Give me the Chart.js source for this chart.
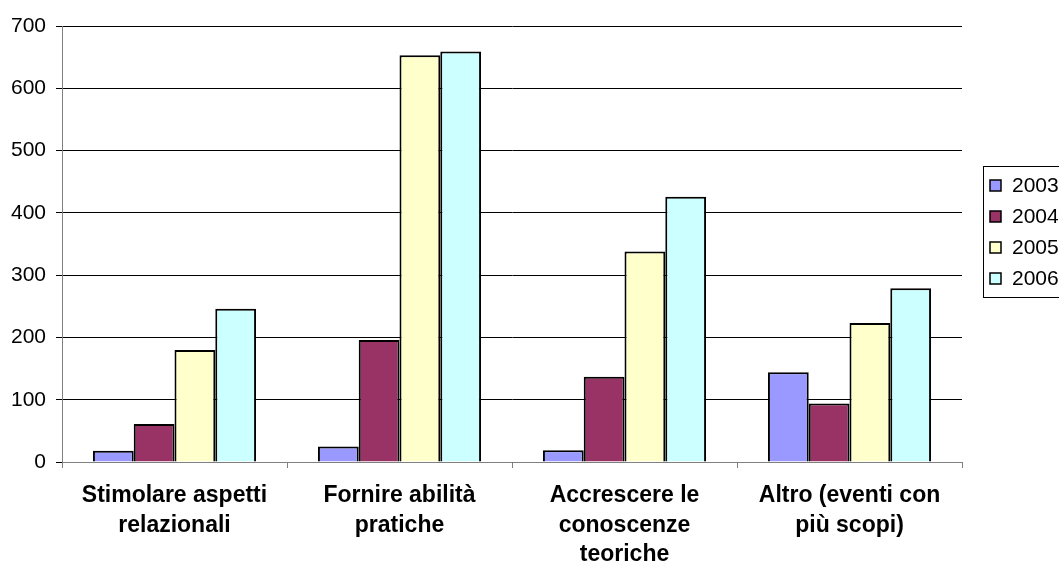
<!DOCTYPE html>
<html>
<head>
<meta charset="utf-8">
<script src="https://cdn.jsdelivr.net/npm/chart.js@4"></script>
<style>
  html, body { margin: 0; padding: 0; background: #fff; overflow: hidden; }
  #wrap { width: 1059px; height: 564px; position: relative; }
</style>
</head>
<body>
<div id="wrap"><canvas id="myChart"></canvas></div>
<script>
// categories and yearly values
const categories = [
  ['Stimolare aspetti', 'relazionali'],
  ['Fornire abilità', 'pratiche'],
  ['Accrescere le', 'conoscenze', 'teoriche'],
  ['Altro (eventi con', 'più scopi)']
];
const years = ['2003', '2004', '2005', '2006'];
const values2003 = [18, 25, 19, 144];
const values2004 = [61, 196, 137, 94];
const values2005 = [180, 653, 338, 223];
const values2006 = [246, 659, 426, 279];
const yTicks = [0, 100, 200, 300, 400, 500, 600, 700];

const colors = ['#9999FF', '#993366', '#FFFFCC', '#CCFFFF'];
const series = [values2003, values2004, values2005, values2006];

const FONT = "'Liberation Sans', Arial, sans-serif";

// legend with a box, drawn by hand like the original
const boxLegend = {
  id: 'boxLegend',
  afterDraw(chart) {
    const ctx = chart.ctx;
    ctx.save();
    ctx.strokeStyle = '#000';
    ctx.lineWidth = 1;
    ctx.strokeRect(983.5, 166.5, 100, 131);
    ctx.font = '21px ' + FONT;
    ctx.textBaseline = 'middle';
    chart.data.datasets.forEach(function (ds, i) {
      const y = 185 + i * 31;
      ctx.fillStyle = ds.backgroundColor;
      ctx.fillRect(990, y - 5, 11, 11);
      ctx.strokeStyle = '#000';
      ctx.lineWidth = 1.5;
      ctx.strokeRect(990, y - 5, 11, 11);
      ctx.fillStyle = '#000';
      ctx.fillText(ds.label, 1012, y + 1);
    });
    ctx.restore();
  }
};

const data = {
  labels: categories,
  datasets: years.map(function (y, i) {
    return {
      label: y,
      data: series[i],
      backgroundColor: colors[i],
      borderColor: '#000',
      borderWidth: 2,
      borderSkipped: 'bottom',
      barPercentage: 1,
      categoryPercentage: 0.725
    };
  })
};

const config = {
  type: 'bar',
  data: data,
  plugins: [boxLegend],
  options: {
    responsive: true,
    maintainAspectRatio: false,
    animation: false,
    layout: { padding: { top: 26, right: 97, left: 0, bottom: 0 } },
    plugins: {
      legend: { display: false },
      tooltip: { enabled: false }
    },
    scales: {
      x: {
        offset: true,
        grid: {
          offset: true,
          drawOnChartArea: false,
          drawTicks: true,
          tickLength: 6,
          color: '#808080'
        },
        border: { color: '#808080', width: 1 },
        ticks: {
          color: '#000',
          font: { family: FONT, size: 23, weight: 'bold', lineHeight: 1.28 },
          padding: 13,
          maxRotation: 0,
          autoSkip: false
        },
        afterFit: function (scale) { scale.height = 102; }
      },
      y: {
        min: 0,
        max: 700,
        afterBuildTicks: function (scale) {
          scale.ticks = yTicks.map(function (v) { return { value: v }; });
        },
        grid: {
          color: '#000',
          lineWidth: 1,
          drawTicks: true,
          tickLength: 6
        },
        border: { color: '#808080', width: 1 },
        ticks: {
          color: '#000',
          font: { family: FONT, size: 21 },
          padding: 10
        },
        afterFit: function (scale) { scale.width = 62; }
      }
    }
  }
};

var myChart = new Chart(document.getElementById('myChart'), config);
</script>
</body>
</html>
